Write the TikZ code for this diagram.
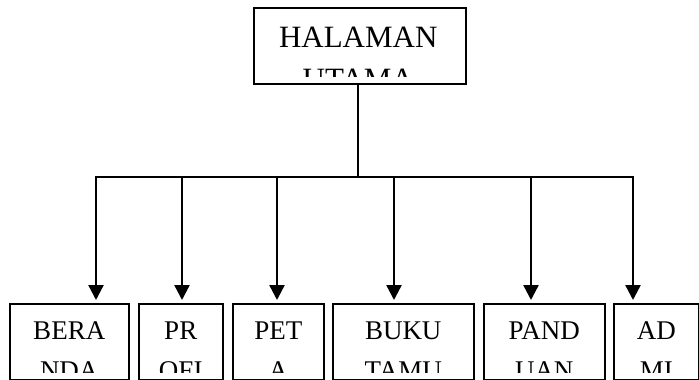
\documentclass[tikz,border=0pt]{standalone}
\usepackage{fontspec}
\setmainfont{Liberation Serif}
\usetikzlibrary{arrows.meta}
\tikzset{
  box/.style={draw, line width=1.5pt, inner sep=0pt, anchor=north west},
  conn/.style={line width=2.4pt, line cap=rect},
  arr/.style={line width=2.4pt, -{Triangle[width=15pt,length=15pt]}, shorten >=3pt},
  bigtxt/.style={font=\fontsize{31}{37}\selectfont, anchor=base, inner sep=0pt},
  smalltxt/.style={font=\fontsize{27}{32}\selectfont, anchor=base, inner sep=0pt},
  inclip/.style={insert path={([yshift=7pt]path picture bounding box.south west) rectangle (path picture bounding box.north east)}},
}
% #1 name, #2 width, #3 left x, #4 first line, #5 second line, #6 arrow x
\newcommand{\lowbox}[6]{%
  \node[box, minimum width=#2pt, minimum height=76pt,
    path picture={\clip[inclip]; \path (path picture bounding box.north) ++(0,36) node[smalltxt]{#4} ++(0,40) node[smalltxt]{#5};}]
    (#1) at (#3,303) {};%
  \coordinate (c#1) at (#6,177);%
}
\begin{document}
\begin{tikzpicture}[x=1pt,y=-1pt]
\useasboundingbox (0,0) rectangle (699,380);
\node[box, minimum width=212pt, minimum height=76pt,
  path picture={\clip[inclip]; \path (path picture bounding box.north) ++(-1.5,40) node[bigtxt]{HALAMAN} ++(0,42) node[bigtxt]{UTAMA};}]
  (top) at (253,7) {};
\lowbox{b1}{119}{9}{BERA}{NDA}{96}
\lowbox{b2}{84}{138}{PR}{OFI}{182}
\lowbox{b3}{91}{232}{PET}{A}{277}
\lowbox{b4}{141}{332}{BUKU}{TAMU}{394}
\lowbox{b5}{121}{483}{PAND}{UAN}{531}
\lowbox{b6}{85}{613}{AD}{MI}{633}
\coordinate (j) at (357.7,177);
\draw[conn] (top.south -| j) -- (j);
\draw[conn] (cb1) -- (cb6);
\foreach \i in {b1,b2,b3,b4,b5,b6}{
  \draw[arr] (c\i) -- (c\i |- \i.north);
}
\end{tikzpicture}
\end{document}
